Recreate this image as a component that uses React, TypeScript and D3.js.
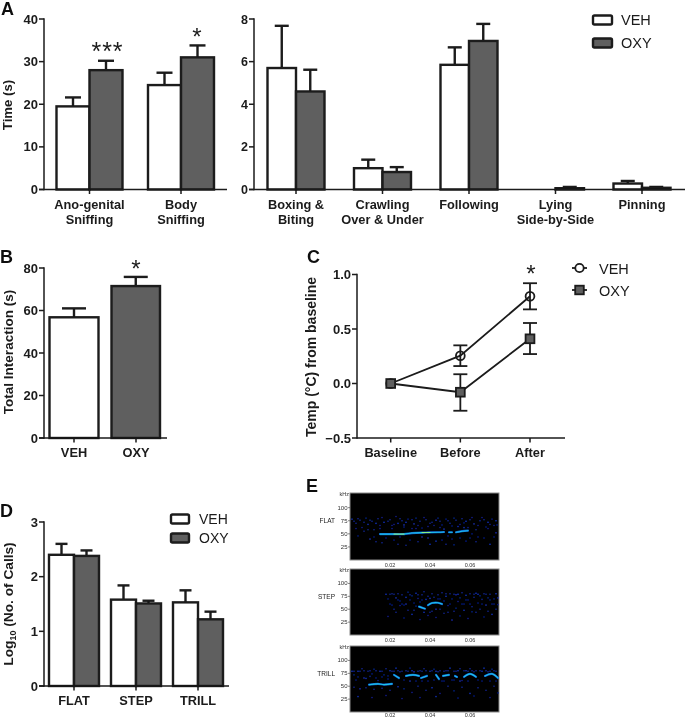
import React from "react";
import * as d3 from "d3";

// ---------- Panel A ----------
const socialCats = [["Ano-genital", "Sniffing"], ["Body", "Sniffing"]];
const socialVeh = [19.5, 24.5];
const socialVehTop = [21.6, 27.4];
const socialOxy = [28, 31];
const socialOxyTop = [30.2, 33.8];
const socialTicks = [0, 10, 20, 30, 40];

const playCats = [["Boxing &", "Biting"], ["Crawling", "Over & Under"], ["Following"], ["Lying", "Side-by-Side"], ["Pinning"]];
const playVeh = [5.7, 1.0, 5.85, 0.0, 0.28];
const playVehTop = [7.68, 1.4, 6.67, 0.0, 0.4];
const playOxy = [4.6, 0.82, 6.97, 0.06, 0.08];
const playOxyTop = [5.62, 1.05, 7.77, 0.12, 0.12];
const playTicks = [0, 2, 4, 6, 8];

// ---------- Panel B ----------
const totalCats = ["VEH", "OXY"];
const totalVals = [56.8, 71.5];
const totalTop = [61, 75.8];
const totalTicks = [0, 20, 40, 60, 80];

// ---------- Panel C ----------
const tempCats = ["Baseline", "Before", "After"];
const tempVeh = [0, 0.255, 0.8];
const tempVehLo = [0, 0.16, 0.68];
const tempVehHi = [0, 0.35, 0.92];
const tempOxy = [0, -0.08, 0.41];
const tempOxyLo = [0, -0.25, 0.27];
const tempOxyHi = [0, 0.085, 0.555];
const tempTicks = [-0.5, 0, 0.5, 1];

// ---------- Panel D ----------
const callCats = [["FLAT"], ["STEP"], ["TRILL"]];
const callVeh = [2.4, 1.58, 1.53];
const callVehTop = [2.6, 1.84, 1.75];
const callOxy = [2.38, 1.51, 1.22];
const callOxyTop = [2.48, 1.56, 1.36];
const callTicks = [0, 1, 2, 3];

// ---------- Panel E: spectrogram traces [seconds, kHz] ----------
const flatTraces: [number, number][][] = [
  [[0.015, 49.5], [0.02, 49.5], [0.027, 49.5], [0.031, 51.5], [0.038, 52.5], [0.044, 53], [0.047, 53.5]],
  [[0.0495, 53], [0.051, 53]],
  [[0.053, 53], [0.056, 55], [0.059, 56]],
];
const stepTraces: [number, number][][] = [
  [[0.0345, 55], [0.0375, 51]],
  [[0.039, 58], [0.041, 62], [0.044, 62.5], [0.046, 60]],
];
const trillTraces: [number, number][][] = [
  [[0.0095, 53], [0.014, 54.5], [0.017, 53], [0.021, 54.5]],
  [[0.022, 72], [0.0245, 66]],
  [[0.028, 70], [0.0315, 72], [0.0345, 70]],
  [[0.0355, 66], [0.0385, 70]],
  [[0.043, 72], [0.0445, 64]],
  [[0.0465, 70], [0.0495, 72]],
  [[0.0525, 70], [0.0535, 68]],
  [[0.057, 68], [0.06, 74], [0.063, 68]],
  [[0.0675, 70], [0.071, 74], [0.074, 66]],
];
const flatNoise: [number, number][] = [
  [0.001,78],[0.003,70],[0.005,76],[0.006,62],[0.008,80],[0.009,68],[0.011,74],[0.012,58],[0.014,79],[0.015,66],[0.017,72],[0.018,42],[0.02,77],[0.021,60],[0.023,83],[0.024,70],[0.026,75],[0.027,63],[0.029,78],[0.03,38],[0.032,69],[0.033,80],[0.035,74],[0.036,61],[0.038,77],[0.039,42],[0.041,72],[0.042,66],[0.044,80],[0.045,74],[0.047,59],[0.048,78],[0.05,70],[0.051,40],[0.053,76],[0.054,64],[0.056,79],[0.057,71],[0.059,62],[0.06,77],[0.062,69],[0.063,35],[0.065,75],[0.066,81],[0.068,63],[0.069,72],[0.071,78],[0.072,66],[0.0735,67],
  [0.004,46],[0.01,40],[0.016,33],[0.022,38],[0.028,28],[0.034,35],[0.04,30],[0.046,38],[0.052,29],[0.058,36],[0.064,44],[0.07,30],[0.007,55],[0.013,35],[0.025,44],[0.031,60],[0.043,36],[0.049,46],[0.055,42],[0.061,50],[0.067,42],[0.073,52],
  [0.002,74],[0.004,79],[0.007,72],[0.01,76],[0.013,70],[0.016,81],[0.019,74],[0.022,68],[0.025,79],[0.028,72],[0.031,77],[0.034,66],[0.037,81],[0.04,70],[0.043,76],[0.046,67],[0.049,75],[0.052,80],[0.055,68],[0.058,74],[0.061,81],[0.064,66],[0.067,77],[0.07,68],[0.073,75],
  [0.003,60],[0.009,58],[0.015,60],[0.021,66],[0.027,67],[0.033,60],[0.039,64],[0.045,62],[0.051,65],[0.057,62],[0.063,58],[0.069,60],[0.012,44],[0.024,30],[0.036,44],[0.048,30],[0.06,42],[0.072,44],
];
const stepNoise: [number, number][] = [
  [0.018,79],[0.019,70],[0.02,60],[0.021,80],[0.022,50],[0.023,72],[0.024,80],[0.025,66],[0.026,78],[0.027,58],[0.028,73],[0.029,83],[0.03,68],[0.031,76],[0.032,48],[0.033,81],[0.034,71],[0.035,64],[0.036,78],[0.037,84],[0.038,69],[0.039,75],[0.04,44],[0.041,80],[0.042,73],[0.043,50],[0.044,78],[0.045,70],[0.046,82],[0.047,66],[0.048,75],[0.049,57],[0.05,80],[0.051,70],[0.052,46],[0.053,78],[0.054,65],[0.055,72],[0.056,82],[0.057,60],[0.058,77],[0.059,68],[0.06,80],[0.061,55],[0.062,73],[0.063,81],[0.064,62],[0.065,76],[0.066,69],[0.067,80],[0.068,58],[0.069,72],[0.07,79],[0.071,60],[0.072,70],[0.073,80],[0.074,59],
  [0.019,36],[0.023,44],[0.027,33],[0.031,40],[0.035,30],[0.039,38],[0.043,34],[0.047,42],[0.051,29],[0.055,37],[0.059,32],[0.063,44],[0.067,35],[0.071,40],
  [0.02,79],[0.022,79],[0.024,68],[0.026,60],[0.028,60],[0.03,78],[0.032,62],[0.034,78],[0.036,68],[0.04,71],[0.044,70],[0.048,80],[0.05,60],[0.052,79],[0.054,79],[0.056,60],[0.058,68],[0.06,60],[0.062,79],[0.064,79],[0.066,60],[0.068,79],[0.07,68],[0.072,60],[0.074,72],
  [0.021,58],[0.025,57],[0.029,48],[0.033,56],[0.037,44],[0.041,46],[0.045,50],[0.049,44],[0.053,52],[0.057,48],[0.061,45],[0.065,50],[0.069,46],[0.073,50],
];
const trillNoise: [number, number][] = [
  [0.001,79],[0.002,72],[0.003,62],[0.005,79],[0.006,84],[0.008,65],[0.009,79],[0.011,74],[0.012,83],[0.014,61],[0.015,79],[0.017,72],[0.018,84],[0.019,64],[0.021,79],[0.023,85],[0.025,78],[0.027,62],[0.028,80],[0.03,85],[0.032,78],[0.033,60],[0.035,80],[0.037,84],[0.039,60],[0.04,79],[0.042,83],[0.044,78],[0.046,60],[0.048,80],[0.05,85],[0.051,62],[0.053,79],[0.055,84],[0.056,61],[0.058,80],[0.06,84],[0.062,78],[0.064,62],[0.065,80],[0.067,85],[0.069,78],[0.071,83],[0.073,79],
  [0.002,48],[0.005,45],[0.008,47],[0.012,44],[0.016,46],[0.02,42],[0.024,49],[0.027,45],[0.031,38],[0.034,50],[0.038,42],[0.041,47],[0.045,36],[0.049,50],[0.052,41],[0.056,48],[0.06,36],[0.064,47],[0.068,42],[0.072,50],[0.074,37],[0.004,30],[0.011,28],[0.018,32],[0.026,26],[0.035,28],[0.043,30],[0.054,27],[0.062,31],[0.07,28],
  [0.002,79],[0.004,79],[0.007,80],[0.01,80],[0.013,80],[0.016,79],[0.02,80],[0.022,79],[0.024,80],[0.026,79],[0.029,79],[0.031,80],[0.034,79],[0.036,79],[0.038,80],[0.041,80],[0.043,79],[0.045,80],[0.047,79],[0.049,80],[0.052,79],[0.054,80],[0.057,80],[0.059,79],[0.061,80],[0.063,80],[0.066,79],[0.068,80],[0.07,79],[0.072,80],
  [0.004,68],[0.007,66],[0.01,69],[0.013,66],[0.016,68],[0.019,70],[0.03,60],[0.036,60],[0.042,62],[0.047,60],[0.052,62],[0.055,60],[0.059,60],[0.066,60],[0.07,60],[0.073,60],
];
const kHzTicks = [25, 50, 75, 100];
const secTicks = [0.02, 0.04, 0.06];

// ---------- Styling ----------
const FONT = "'Liberation Sans', Arial, sans-serif";
const INK = "#1a1a1a";
const DARK = "#5e5e5e";

function YAxis({ x, y, ticks, fmt, size = 13 }: any) {
  return (
    <g>
      <line x1={x} x2={x} y1={y(d3.max(ticks) as number) - 0.8} y2={y(d3.min(ticks) as number) + 0.8} stroke={INK} strokeWidth={1.5} />
      {ticks.map((t: number) => (
        <g key={t}>
          <line x1={x - 5} x2={x} y1={y(t)} y2={y(t)} stroke={INK} strokeWidth={1.5} />
          <text x={x - 6} y={y(t) + 4.6} textAnchor="end" fontFamily={FONT} fontWeight={700} fontSize={size} fill={INK}>
            {fmt ? fmt(t) : t}
          </text>
        </g>
      ))}
    </g>
  );
}

function XAxis({ x1, x2, y0, positions, cats, size = 12.8, lh = 15, first = 18, ticks = true }: any) {
  return (
    <g>
      <line x1={x1} x2={x2} y1={y0} y2={y0} stroke={INK} strokeWidth={1.5} />
      {positions.map((p: number, i: number) => (
        <g key={i}>
          {ticks && <line x1={p} x2={p} y1={y0} y2={y0 + 4.5} stroke={INK} strokeWidth={1.5} />}
          {(cats[i] as string[]).map((s, k) => (
            <text key={k} x={p} y={y0 + first + k * lh} textAnchor="middle" fontFamily={FONT} fontWeight={700} fontSize={size} fill={INK}>
              {s}
            </text>
          ))}
        </g>
      ))}
    </g>
  );
}

function Bar({ x0, x1, y0, yv, yTop, fill, cap, sw = 2.4 }: any) {
  const mid = (x0 + x1) / 2;
  return (
    <g>
      {yTop < yv && (
        <g stroke={INK} strokeWidth={sw} fill="none">
          <line x1={mid} x2={mid} y1={yv} y2={yTop} />
          <line x1={mid - cap / 2} x2={mid + cap / 2} y1={yTop} y2={yTop} />
        </g>
      )}
      <rect x={x0} y={yv} width={x1 - x0} height={Math.max(y0 - yv, 0)} fill={fill} stroke={INK} strokeWidth={sw} />
    </g>
  );
}

function PairedBars({ positions, w, y, veh, vehTop, oxy, oxyTop, cap }: any) {
  const y0 = y(0);
  return (
    <g>
      {positions.map((p: number, i: number) => (
        <g key={i}>
          {veh[i] > 0 && <Bar x0={p - w} x1={p} y0={y0} yv={y(veh[i])} yTop={y(vehTop[i])} fill="#fff" cap={cap} />}
          <Bar x0={p} x1={p + w} y0={y0} yv={y(oxy[i])} yTop={y(oxyTop[i])} fill={DARK} cap={cap} />
        </g>
      ))}
    </g>
  );
}

function RectLegend({ x, w, h, y1, y2, tx, size }: any) {
  return (
    <g>
      <rect x={x} y={y1} width={w} height={h} rx={1.5} fill="#fff" stroke={INK} strokeWidth={2.4} />
      <rect x={x} y={y2} width={w} height={h} rx={1.5} fill={DARK} stroke={INK} strokeWidth={2.4} />
      <text x={tx} y={y1 + h / 2 + size * 0.36} fontFamily={FONT} fontSize={size} fill={INK}>VEH</text>
      <text x={tx} y={y2 + h / 2 + size * 0.36} fontFamily={FONT} fontSize={size} fill={INK}>OXY</text>
    </g>
  );
}

function Letter({ x, y, c }: any) {
  return <text x={x} y={y} fontFamily={FONT} fontWeight={700} fontSize={18} fill="#111">{c}</text>;
}

function Star({ x, y, n = 1, size = 24 }: any) {
  return (
    <text x={x} y={y} textAnchor="middle" fontFamily={FONT} fontSize={size} letterSpacing={n > 1 ? 1 : 0} fill={INK}>
      {"*".repeat(n)}
    </text>
  );
}

function YLabel({ x, y, children, size = 13 }: any) {
  return (
    <text transform={`translate(${x},${y}) rotate(-90)`} textAnchor="middle" fontFamily={FONT} fontWeight={700} fontSize={size} fill={INK}>
      {children}
    </text>
  );
}

function Spectrogram({ top, bottom, name, noise, traces, hot }: any) {
  const sx = d3.scaleLinear().domain([0, 0.0745]).range([350, 499]);
  const sy = d3.scaleLinear().domain([0, 128]).range([bottom, top]);
  const line = d3.line<[number, number]>().x((d) => sx(d[0])).y((d) => sy(d[1])).curve(d3.curveCatmullRom);
  const small = { fontFamily: FONT, fontSize: 6, fill: "#333" };
  return (
    <g>
      <rect x={350} y={top} width={149} height={bottom - top} fill="#000" stroke="#8a8a8a" strokeWidth={1} />
      <g filter="url(#soft)">
        {noise.map((d: [number, number], i: number) => (
          <rect key={i} x={sx(d[0]) - 0.7} y={sy(d[1]) - 0.7} width={1.4} height={1.4} fill={i % 5 === 0 ? "#1230c0" : "#0b1a90"} />
        ))}
        {traces.map((t: [number, number][], i: number) => (
          <path key={i} d={line(t) || ""} fill="none" stroke="#0c5ccc" strokeWidth={2.2} strokeLinecap="round" />
        ))}
        {traces.map((t: [number, number][], i: number) => (
          <path key={i} d={line(t) || ""} fill="none" stroke="#1ec4ea" strokeWidth={1.1} strokeLinecap="round" />
        ))}
        {hot && hot.map((t: [number, number][], i: number) => (
          <path key={i} d={line(t) || ""} fill="none" stroke="#8cf080" strokeWidth={1} strokeLinecap="round" />
        ))}
      </g>
      <text x={349} y={top + 3} textAnchor="end" {...small} fontSize={5.5}>kHz</text>
      {kHzTicks.map((k) => (
        <g key={k}>
          <line x1={348} x2={350} y1={sy(k)} y2={sy(k)} stroke="#555" strokeWidth={0.7} />
          <text x={347.5} y={sy(k) + 2} textAnchor="end" {...small}>{k}</text>
        </g>
      ))}
      {secTicks.map((s) => (
        <text key={s} x={sx(s)} y={Math.min(bottom + 6.5, 717)} textAnchor="middle" {...small} fontSize={5.5}>{s.toFixed(2)}</text>
      ))}
      <text x={335} y={sy(75) + 2.5} textAnchor="end" fontFamily={FONT} fontSize={6.5} fill="#222">{name}</text>
    </g>
  );
}

export default function App() {
  // Panel A left
  const yA = d3.scaleLinear().domain([0, 40]).range([189.5, 19]);
  const xA = d3.scalePoint<number>().domain(d3.range(socialCats.length)).range([89.5, 181]);
  const posA = socialCats.map((_, i) => xA(i) as number);
  // Panel A right
  const yA2 = d3.scaleLinear().domain([0, 8]).range([189.5, 19]);
  const xA2 = d3.scalePoint<number>().domain(d3.range(playCats.length)).range([296, 642]);
  const posA2 = playCats.map((_, i) => xA2(i) as number);
  // Panel B
  const yB = d3.scaleLinear().domain([0, 80]).range([438, 268]);
  const xB = d3.scalePoint<string>().domain(totalCats).range([74, 136]);
  // Panel C
  const yC = d3.scaleLinear().domain([-0.5, 1]).range([438, 274.5]);
  const xC = d3.scalePoint<string>().domain(tempCats).range([390.7, 530]);
  const lineC = d3.line<number>().x((_, i) => xC(tempCats[i]) as number).y((d) => yC(d));
  // Panel D
  const yD = d3.scaleLinear().domain([0, 3]).range([686, 522]);
  const xD = d3.scalePoint<number>().domain(d3.range(callCats.length)).range([74, 198]);
  const posD = callCats.map((_, i) => xD(i) as number);

  return (
    <svg width={685} height={718} style={{ position: "absolute", left: 0, top: 0, background: "#fff" }}>
      <defs>
        <filter id="soft" x="-5%" y="-5%" width="110%" height="110%">
          <feGaussianBlur stdDeviation="0.55" />
        </filter>
        <filter id="page" x="0" y="0" width="100%" height="100%" filterUnits="userSpaceOnUse" primitiveUnits="userSpaceOnUse">
          <feGaussianBlur stdDeviation="0.4" />
        </filter>
      </defs>
      <g filter="url(#page)">
      <rect x={0} y={0} width={685} height={718} fill="#fff" />

      {/* A */}
      <Letter x={1} y={14.5} c="A" />
      <PairedBars positions={posA} w={33} y={yA} veh={socialVeh} vehTop={socialVehTop} oxy={socialOxy} oxyTop={socialOxyTop} cap={16} />
      <YAxis x={44} y={yA} ticks={socialTicks} />
      <XAxis x1={39} x2={227} y0={yA(0)} positions={posA} cats={socialCats} first={19} />
      <YLabel x={12} y={105} size={13.2}>Time (s)</YLabel>
      <Star x={107.5} y={59.5} n={3} size={25} />
      <Star x={197} y={44.5} />

      <PairedBars positions={posA2} w={28.5} y={yA2} veh={playVeh} vehTop={playVehTop} oxy={playOxy} oxyTop={playOxyTop} cap={14} />
      <YAxis x={254} y={yA2} ticks={playTicks} size={12.5} />
      <XAxis x1={249} x2={685} y0={yA2(0)} positions={posA2} cats={playCats} first={19} />
      <RectLegend x={593} w={19} h={9} y1={15.5} y2={38.5} tx={621} size={14.5} />

      {/* B */}
      <Letter x={0} y={263} c="B" />
      <Bar x0={49.5} x1={98.5} y0={yB(0)} yv={yB(totalVals[0])} yTop={yB(totalTop[0])} fill="#fff" cap={24} />
      <Bar x0={111.5} x1={160} y0={yB(0)} yv={yB(totalVals[1])} yTop={yB(totalTop[1])} fill={DARK} cap={24} />
      <YAxis x={44} y={yB} ticks={totalTicks} />
      <XAxis x1={39} x2={167} y0={yB(0)} positions={totalCats.map((c) => xB(c))} cats={totalCats.map((c) => [c])} first={19} />
      <YLabel x={12.5} y={352} size={13.5}>Total Interaction (s)</YLabel>
      <Star x={136} y={277} />

      {/* C */}
      <Letter x={307} y={263} c="C" />
      <YAxis x={357} y={yC} ticks={tempTicks} fmt={d3.format(".1f")} />
      <XAxis x1={357} x2={565} y0={yC(-0.5)} positions={tempCats.map((c) => xC(c))} cats={tempCats.map((c) => [c])} first={19} />
      <YLabel x={316} y={357} size={14}>Temp (°C) from baseline</YLabel>
      <path d={lineC(tempVeh) || ""} fill="none" stroke={INK} strokeWidth={1.8} />
      <path d={lineC(tempOxy) || ""} fill="none" stroke={INK} strokeWidth={1.8} />
      {tempCats.map((c, i) => {
        const x = xC(c) as number;
        return (
          <g key={c} stroke={INK} strokeWidth={1.8}>
            {i > 0 && (
              <g>
                <line x1={x} x2={x} y1={yC(tempVehLo[i])} y2={yC(tempVehHi[i])} />
                <line x1={x - 7} x2={x + 7} y1={yC(tempVehLo[i])} y2={yC(tempVehLo[i])} />
                <line x1={x - 7} x2={x + 7} y1={yC(tempVehHi[i])} y2={yC(tempVehHi[i])} />
                <line x1={x} x2={x} y1={yC(tempOxyLo[i])} y2={yC(tempOxyLo[i])} />
                <line x1={x} x2={x} y1={yC(tempOxyLo[i])} y2={yC(tempOxyHi[i])} />
                <line x1={x - 7} x2={x + 7} y1={yC(tempOxyLo[i])} y2={yC(tempOxyLo[i])} />
                <line x1={x - 7} x2={x + 7} y1={yC(tempOxyHi[i])} y2={yC(tempOxyHi[i])} />
              </g>
            )}
            <circle cx={x} cy={yC(tempVeh[i])} r={4.4} fill="none" />
            <rect x={x - 4.4} y={yC(tempOxy[i]) - 4.4} width={8.8} height={8.8} fill={DARK} />
          </g>
        );
      })}
      <Star x={531} y={282} />
      <g stroke={INK} strokeWidth={1.8}>
        <line x1={572} x2={587} y1={268} y2={268} />
        <circle cx={579.5} cy={268} r={4.2} fill="#fff" />
        <line x1={572} x2={587} y1={290} y2={290} />
        <rect x={575.2} y={285.7} width={8.6} height={8.6} fill={DARK} />
      </g>
      <text x={599} y={273.5} fontFamily={FONT} fontSize={14.5} fill={INK}>VEH</text>
      <text x={599} y={295.5} fontFamily={FONT} fontSize={14.5} fill={INK}>OXY</text>

      {/* D */}
      <Letter x={0} y={517} c="D" />
      <PairedBars positions={posD} w={25} y={yD} veh={callVeh} vehTop={callVehTop} oxy={callOxy} oxyTop={callOxyTop} cap={12} />
      <YAxis x={44} y={yD} ticks={callTicks} />
      <XAxis x1={39} x2={229} y0={yD(0)} positions={posD} cats={callCats} first={19} />
      <YLabel x={13} y={604} size={13.7}>
        Log<tspan fontSize={9} dy={3}>10</tspan><tspan dy={-3}> (No. of Calls)</tspan>
      </YLabel>
      <RectLegend x={171} w={18} h={9} y1={514.5} y2={533.5} tx={199} size={14} />

      {/* E */}
      <Letter x={306} y={492} c="E" />
      <Spectrogram top={493} bottom={560} name="FLAT" noise={flatNoise} traces={flatTraces}
        hot={[[[0.022, 49.5], [0.027, 49.5]], [[0.036, 52.5], [0.04, 52.5]]]} />
      <Spectrogram top={569} bottom={635} name="STEP" noise={stepNoise} traces={stepTraces} />
      <Spectrogram top={646} bottom={712} name="TRILL" noise={trillNoise} traces={trillTraces} />
      </g>
    </svg>
  );
}
